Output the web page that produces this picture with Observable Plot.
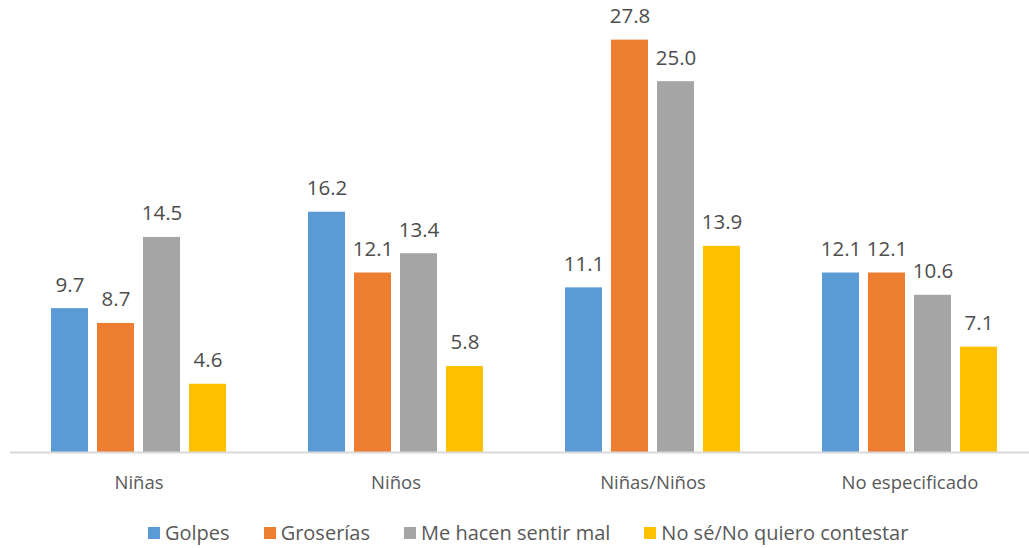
<!DOCTYPE html>
<html><head><meta charset="utf-8">
<script src="https://cdn.jsdelivr.net/npm/d3@7"></script>
<script src="https://cdn.jsdelivr.net/npm/@observablehq/plot@0.6"></script>
<style>
html,body{margin:0;padding:0;background:#fff;overflow:hidden;}
#chart{width:1029px;}
.legend{display:flex;justify-content:flex-start;margin-left:148px;margin-top:20px;font-family:"Open Sans",sans-serif;font-size:20px;line-height:26px;color:#595959;}
.legend span.item{display:flex;align-items:center;margin-right:34px;}
.legend span.sw{display:inline-block;width:12px;height:12px;margin-right:5px;}
</style></head>
<body><div id="chart"></div>
<script>
const categories = ["Niñas", "Niños", "Niñas/Niños", "No especificado"];
const series = ["Golpes", "Groserías", "Me hacen sentir mal", "No sé/No quiero contestar"];
const golpes = [9.7, 16.2, 11.1, 12.1];
const groserias = [8.7, 12.1, 27.8, 12.1];
const sentirMal = [14.5, 13.4, 25.0, 10.6];
const noSe = [4.6, 5.8, 13.9, 7.1];
const colors = ["#5B9BD5", "#ED7D31", "#A5A5A5", "#FFC000"];

const seriesValues = [golpes, groserias, sentirMal, noSe];
const data = [];
categories.forEach((c, i) => series.forEach((s, j) => data.push({category: c, series: s, value: seriesValues[j][i]})));

const chart = Plot.plot({
  width: 1029,
  height: 500,
  marginTop: 7,
  marginBottom: 48,
  marginLeft: 5,
  marginRight: 0,
  style: {fontFamily: "'Open Sans', sans-serif", color: "#595959", fontSize: "18.5px"},
  fx: {domain: categories, range: [8, 1039], padding: 0, label: null, axis: "bottom", tickSize: 0, tickPadding: 23},
  x: {domain: series, paddingInner: 0.204, paddingOuter: 0.876, axis: null},
  y: {domain: [0, 30], axis: null},
  color: {domain: series, range: colors},
  marks: [
    Plot.barY(data, {fx: "category", x: "series", y: "value", fill: "series"}),
    Plot.ruleY([0], {stroke: "#D9D9D9", strokeWidth: 2}),
    Plot.text(data, {fx: "category", x: "series", y: "value", text: d => d.value.toFixed(1), lineAnchor: "bottom", dy: -17, fontSize: 20.5, fill: "#4d4d4d"})
  ]
});
document.getElementById("chart").appendChild(chart);

const legend = document.createElement("div");
legend.className = "legend";
series.forEach((s, i) => {
  const item = document.createElement("span");
  item.className = "item";
  const sw = document.createElement("span");
  sw.className = "sw";
  sw.style.background = colors[i];
  item.appendChild(sw);
  item.appendChild(document.createTextNode(s));
  legend.appendChild(item);
});
document.getElementById("chart").appendChild(legend);
</script></body></html>
